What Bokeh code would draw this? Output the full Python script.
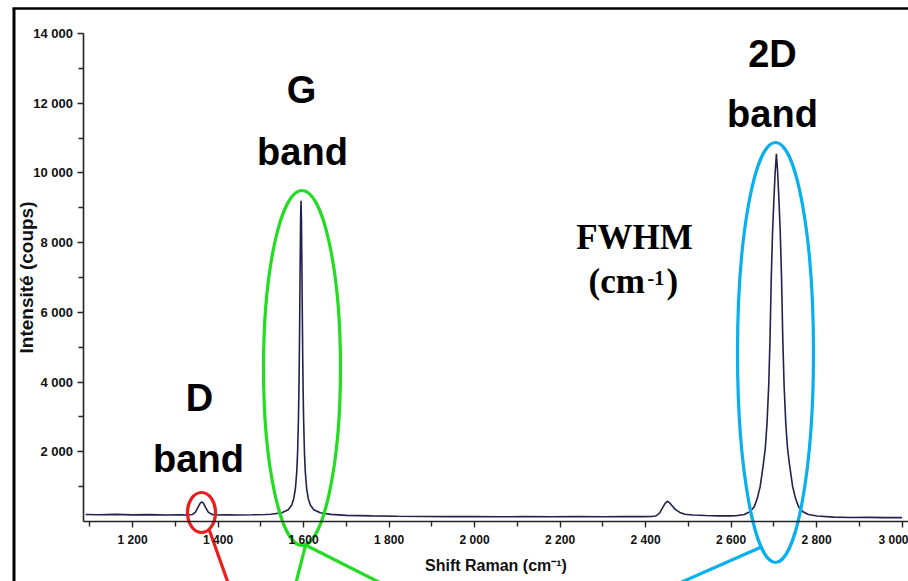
from bokeh.plotting import figure
from bokeh.models import FixedTicker
from bokeh.core.properties import value
from bokeh.embed import file_html
from bokeh.resources import INLINE

# ---------------- data ----------------
shift = [1090, 1120, 1160, 1200, 1240, 1280, 1310, 1330, 1340, 1347, 1353, 1358, 1362, 1366,
         1371, 1377, 1385, 1395, 1420, 1450, 1480, 1510,
         1524, 1549, 1564, 1572, 1577, 1581, 1584, 1586, 1588, 1589, 1590, 1591, 1592, 1593,
         1594, 1595, 1596, 1597, 1598, 1599, 1600, 1602, 1604, 1607, 1611, 1616, 1624, 1639, 1664,
         1700, 1760, 1820, 1880, 1940, 2000, 2060, 2120, 2180, 2240, 2300, 2350, 2390, 2415,
         2425, 2433, 2440, 2446, 2451, 2456, 2462, 2470, 2480, 2492, 2510, 2540, 2570, 2600,
         2611, 2631, 2644, 2654, 2661, 2668, 2675, 2680, 2684, 2688, 2691, 2694, 2697, 2700,
         2703, 2706, 2709, 2712, 2715, 2718, 2721, 2724, 2728, 2732, 2737, 2744, 2751, 2758,
         2768, 2781, 2801, 2840, 2880, 2920, 2960, 3000]
intensity = [200, 195, 205, 190, 196, 186, 190, 188, 200, 270, 410, 520, 560, 520,
             400, 270, 205, 188, 190, 185, 192, 200,
             209, 251, 338, 469, 653, 960, 1424, 1984, 2955, 3700, 4690, 5950, 7400, 8670,
             9200, 8670, 7400, 5950, 4690, 3700, 2955, 1984, 1424, 960, 653, 469, 338, 251, 205,
             175, 160, 150, 145, 140, 140, 135, 140, 135, 140, 135, 140, 140, 145,
             165, 250, 400, 530, 580, 540, 450, 340, 260, 210, 185, 170, 160, 160,
             165, 200, 280, 420, 650, 1000, 1600, 2100, 2800, 3900, 5200, 7000, 8300, 9200,
             10000, 10550, 10000, 9200, 8300, 7000, 5200, 3900, 2800, 2100, 1600, 1000, 650, 420,
             280, 200, 160, 125, 115, 118, 110, 112]

x_major = [1200, 1400, 1600, 1800, 2000, 2200, 2400, 2600, 2800, 3000]
x_minor = [1100, 1300, 1500, 1700, 1900, 2100, 2300, 2500, 2700, 2900]
x_tick_labels = ["1 200", "1 400", "1 600", "1 800", "2 000", "2 200", "2 400", "2 600", "2 800", "3 000"]
y_major = [2000, 4000, 6000, 8000, 10000, 12000, 14000]
y_minor = [1000, 3000, 5000, 7000, 9000, 11000, 13000]
y_tick_labels = ["2 000", "4 000", "6 000", "8 000", "10 000", "12 000", "14 000"]

x_title = "Shift Raman (cm⁻¹)"
y_title = "Intensité (coups)"

# ---------------- layout ----------------
W, H = 908, 581
AX_X_PX, AX_Y_PX = 82.5, 521.0          # where the axes cross on the canvas
XS = 0.4275                              # px per cm-1
YS = 488.0 / 14000                       # px per count
XA, YA = 1084.0, 0.0                     # data value at axis crossing
X_LO = XA - AX_X_PX / XS
X_HI = XA + (W - AX_X_PX) / XS
Y_LO = YA - (H - AX_Y_PX) / YS
Y_HI = YA + AX_Y_PX / YS


def dx(px):  # canvas pixel x -> data x
    return X_LO + px / XS


def dy(py):  # canvas pixel y -> data y
    return Y_LO + (H - py) / YS


p = figure(width=W, height=H, x_range=(X_LO, X_HI), y_range=(Y_LO, Y_HI),
           output_backend="svg", toolbar_location=None,
           min_border=0, min_border_left=0, min_border_right=0,
           min_border_top=0, min_border_bottom=0)
p.grid.visible = False
p.outline_line_color = None
p.background_fill_color = "white"
p.border_fill_color = "white"

FONT = "Liberation Sans"
for ax in (p.xaxis[0], p.yaxis[0]):
    ax.axis_line_color = "#222222"
    ax.axis_line_width = 1.6
    ax.major_tick_line_color = "#222222"
    ax.minor_tick_line_color = "#222222"
    ax.major_tick_line_width = 1.4
    ax.minor_tick_line_width = 1.4
    ax.major_tick_in = 0
    ax.minor_tick_in = 0
    ax.major_tick_out = 6
    ax.minor_tick_out = 5
    ax.major_label_text_font = FONT
    ax.major_label_text_font_style = "bold"
    ax.major_label_text_color = "#111111"
    ax.axis_label_text_font = FONT
    ax.axis_label_text_font_style = "bold"
    ax.axis_label_text_color = "#111111"
    ax.major_label_standoff = 5

p.xaxis.fixed_location = YA
p.xaxis.bounds = (XA, X_HI)
p.xaxis.ticker = FixedTicker(ticks=x_major, minor_ticks=x_minor)
p.xaxis.major_label_overrides = dict(zip(x_major, x_tick_labels))
p.xaxis.major_label_text_font_size = "12px"
p.xaxis.axis_label = x_title
p.xaxis.axis_label_text_font_size = "16px"
p.xaxis.axis_label_standoff = 7

p.yaxis.fixed_location = XA
p.yaxis.bounds = (0, 14000)
p.yaxis.ticker = FixedTicker(ticks=y_major, minor_ticks=y_minor)
p.yaxis.major_label_overrides = dict(zip(y_major, y_tick_labels))
p.yaxis.major_label_text_font_size = "13px"
p.yaxis.major_label_standoff = 4
p.yaxis.axis_label = y_title
p.yaxis.axis_label_text_font_size = "19px"
p.yaxis.axis_label_standoff = -6

# spectrum
p.line(shift, intensity, line_color="#22224e", line_width=1.6)

# ---------------- slide overlay ----------------
# highlight ellipses (canvas pixel centre / radii)
ellipses = [(201, 512, 14, 20, "#ee1c1c"),
            (301.5, 367.5, 38.5, 177.5, "#22dd22"),
            (775, 352, 38, 210, "#0ab0ee")]
for cx, cy, rx, ry, col in ellipses:
    p.ellipse(x=[dx(cx)], y=[dy(cy)], width=[2 * rx / XS], height=[2 * ry / YS],
              fill_color=None, line_color=col, line_width=3.2)

# connector lines
connectors = [(209, 530, 231, 592, "#ee1c1c"),
              (305, 545, 293, 592, "#22dd22"),
              (302, 543, 397, 591, "#22dd22"),
              (762, 546, 662, 590, "#0ab0ee")]
for x1, y1, x2, y2, col in connectors:
    p.segment(x0=[dx(x1)], y0=[dy(y1)], x1=[dx(x2)], y1=[dy(y2)],
              line_color=col, line_width=3.2)

# slide frame border (left and top)
p.segment(x0=[dx(13.5)], y0=[dy(8)], x1=[dx(13.5)], y1=[dy(600)], line_color="black", line_width=3)
p.segment(x0=[dx(12)], y0=[dy(8)], x1=[dx(930)], y1=[dy(8)], line_color="black", line_width=2.5)

# band captions (y = canvas anchor, tuned to the rendered baseline)
band_texts = ["G", "band", "2D", "band", "D", "band"]
band_px = [301, 302, 772, 772, 199, 198]
band_py = [89, 151, 53, 113, 397, 458]
p.text(x=[dx(v) for v in band_px], y=[dy(v) for v in band_py], text=band_texts,
       text_align="center", text_baseline="alphabetic", text_font=value(FONT),
       text_font_style="bold", text_font_size="38px", text_color="black")

SERIF = "Liberation Serif"
p.text(x=[dx(634)], y=[dy(236.5)], text=["FWHM"], text_align="center", text_baseline="alphabetic",
       text_font=value(SERIF), text_font_style="bold", text_font_size="35px", text_color="black")
p.text(x=[dx(588), dx(666)], y=[dy(280.5), dy(280.5)], text=["(cm", ")"], text_align="left",
       text_baseline="alphabetic", text_font=value(SERIF), text_font_style="bold",
       text_font_size="35px", text_color="black")
p.text(x=[dx(647)], y=[dy(277)], text=["-1"], text_align="left", text_baseline="alphabetic",
       text_font=value(SERIF), text_font_style="bold", text_font_size="20px", text_color="black")

open("out.html", "w").write(file_html(p, INLINE))
